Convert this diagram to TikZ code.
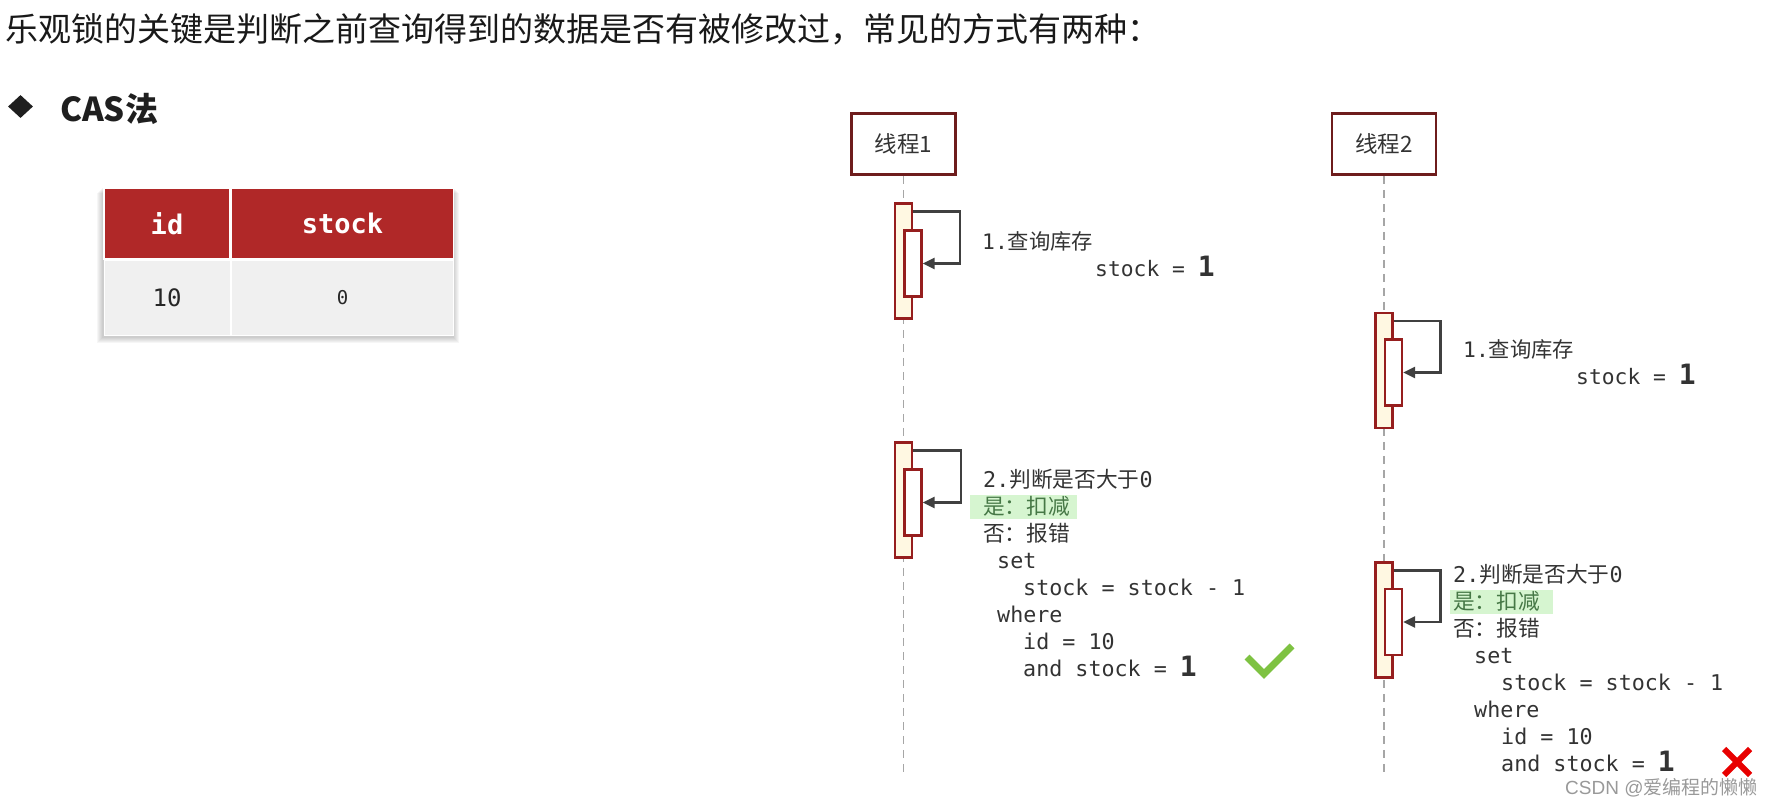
\documentclass[tikz,border=0pt]{standalone}
\usepackage{fontspec}
\setmonofont{DejaVu Sans Mono}
\newfontfamily\cjk{Noto Sans CJK SC}
\newfontfamily\wmfont{Liberation Sans}
\usetikzlibrary{arrows.meta,positioning,shapes.geometric,calc,fit,backgrounds}
\definecolor{tabred}{RGB}{176,40,40}
\definecolor{rowgray}{RGB}{240,240,240}
\definecolor{boxred}{RGB}{110,28,28}
\definecolor{actred}{RGB}{150,30,30}
\definecolor{actfill}{RGB}{255,248,226}
\definecolor{hlgreen}{RGB}{214,245,208}
\definecolor{hltext}{RGB}{70,120,70}
\definecolor{okgreen}{RGB}{126,194,66}
\definecolor{badred}{RGB}{232,0,0}
\definecolor{inkgray}{RGB}{51,51,51}
\newcommand{\zh}[1]{{\cjk #1}}
\newcommand{\one}{{\bfseries\fontsize{28}{28}\selectfont 1}}
\newcommand{\yes}[3]{\makebox[0pt][l]{\hspace{-#1}\textcolor{hlgreen}{\rule[-4.5pt]{#2}{24pt}}}\textcolor{hltext}{\zh{#3}}}
\tikzset{
  title/.style={anchor=base west, inner sep=0pt, font=\cjk\fontsize{33}{36}\selectfont, text=black!90},
  headcell/.style={rectangle, fill=tabred, draw=white, line width=1.5pt, minimum height=71pt, text=white, font=\ttfamily\bfseries\fontsize{27}{27}\selectfont},
  rowcell/.style={rectangle, fill=rowgray, draw=white, line width=1pt, minimum height=75pt, text=black!85, font=\ttfamily\fontsize{24}{24}\selectfont},
  thread/.style={rectangle, draw=boxred, line width=2.5pt, fill=white, minimum width=104pt, minimum height=61pt, text=inkgray, font=\cjk\fontsize{22.5}{22.5}\selectfont},
  lifeline/.style={draw=black!35, line width=1.8pt, dash pattern=on 8pt off 6pt},
  actout/.style={rectangle, draw=actred, fill=actfill, line width=2.2pt, minimum width=17pt, minimum height=115pt, inner sep=0pt},
  actin/.style={rectangle, draw=actred, fill=white, line width=2.2pt, minimum width=17pt, minimum height=66pt, inner sep=0pt},
  selfmsg/.style={draw=black!75, line width=2.6pt, -{Triangle[length=12pt,width=11pt]}},
  note/.style={anchor=north west, inner sep=0pt, align=left, text=inkgray, font=\ttfamily\fontsize{21.3}{26.5}\selectfont},
  okmark/.style={draw=okgreen, line width=7pt},
  nomark/.style={draw=badred, line width=6pt}
}
\begin{document}
\begin{tikzpicture}[x=1pt,y=-1pt]
\useasboundingbox (0,0) rectangle (1771,807);
% heading
\node[title] (title) at (5,41.5) {乐观锁的关键是判断之前查询得到的数据是否有被修改过，常见的方式有两种：};
\node[diamond, fill=black!88, minimum width=25pt, minimum height=23pt, inner sep=0pt] (bullet) at (20.5,106.5) {};
\node[anchor=base west, inner sep=0pt, text=black!88, font=\cjk\bfseries\fontsize{33}{33}\selectfont] (cas) at (60,121) {CAS法};
% table
\node[headcell, minimum width=126pt] (hid) at (167,223.5) {id};
\node[headcell, minimum width=222pt, right=0pt of hid] (hstock) {stock};
\node[rowcell, minimum width=126pt, below=0pt of hid] (cid) {10};
\node[rowcell, minimum width=222pt, below=0pt of hstock, font=\ttfamily\fontsize{19}{19}\selectfont] (cstock) {0};
\begin{scope}[on background layer]
\node[fit=(hid)(cstock), inner sep=0pt] (tab) {};
\foreach \s in {1,...,6}
  \fill[black, opacity=0.035] ($(tab.north west)+(-\s,\s)$) rectangle ($(tab.south east)+(\s-1,\s+1)$);
\end{scope}
% threads
\node[thread] (t1) at (903.5,144) {线程1};
\node[thread, right=374pt of t1] (t2) {线程2};
\coordinate (end1) at (t1 |- 0,772);
\coordinate (end2) at (t2 |- 0,773);
\draw[lifeline] (t1) -- (end1);
\draw[lifeline] (t2) -- (end2);
% activations
\node[actout] (a1o) at (t1 |- 0,261) {};
\node[actin] (a1i) at ($(a1o)+(9.5,2.5)$) {};
\node[actout] (a2o) at (t1 |- 0,500) {};
\node[actin] (a2i) at ($(a2o)+(9.5,2.5)$) {};
\node[actout] (a3o) at (t2 |- 0,370.5) {};
\node[actin] (a3i) at ($(a3o)+(9.5,2)$) {};
\node[actout] (a4o) at (t2 |- 0,620) {};
\node[actin] (a4i) at ($(a4o)+(9.5,2)$) {};
\draw[selfmsg] ([yshift=-9pt]a1o.north east) -- ++(47,0) |- (a1i.east);
\draw[selfmsg] ([yshift=-9pt]a2o.north east) -- ++(48,0) |- (a2i.east);
\draw[selfmsg] ([yshift=-9pt]a3o.north east) -- ++(47,0) |- (a3i.east);
\draw[selfmsg] ([yshift=-9pt]a4o.north east) -- ++(47,0) |- (a4i.east);
% notes
\node[note] (q1) at (982,231.5) {1.\zh{查询库存}\\\hspace*{113pt}stock = \one};
\node[note] (q2) at (1463,339.5) {1.\zh{查询库存}\\\hspace*{113pt}stock = \one};
\node[note, font=\ttfamily\fontsize{21.7}{27}\selectfont] (j1) at (983,469.5) {2.\zh{判断是否大于}0\\
  \yes{13pt}{107pt}{是：扣减}\\
  \zh{否：报错}\\
  \hspace*{14pt}set\\
  \hspace*{40pt}stock = stock - 1\\
  \hspace*{14pt}where\\
  \hspace*{40pt}id = 10\\
  \hspace*{40pt}and stock = \one};
\node[note, font=\ttfamily\fontsize{21.7}{27}\selectfont] (j2) at (1453,564.5) {2.\zh{判断是否大于}0\\
  \yes{3pt}{103pt}{是：扣减}\\
  \zh{否：报错}\\
  \hspace*{21pt}set\\
  \hspace*{48pt}stock = stock - 1\\
  \hspace*{21pt}where\\
  \hspace*{48pt}id = 10\\
  \hspace*{48pt}and stock = \one};
% results
\draw[okmark] (1247,657) -- (1264,674) -- (1292,646);
\draw[nomark] (1724,749) -- (1750,775) (1750,749) -- (1724,775);
\node[anchor=west, inner sep=0pt, text=black!40, font=\fontsize{19}{19}\selectfont] (mark) at (1565,788) {\wmfont CSDN @\zh{爱编程的懒懒}};
\end{tikzpicture}
\end{document}
